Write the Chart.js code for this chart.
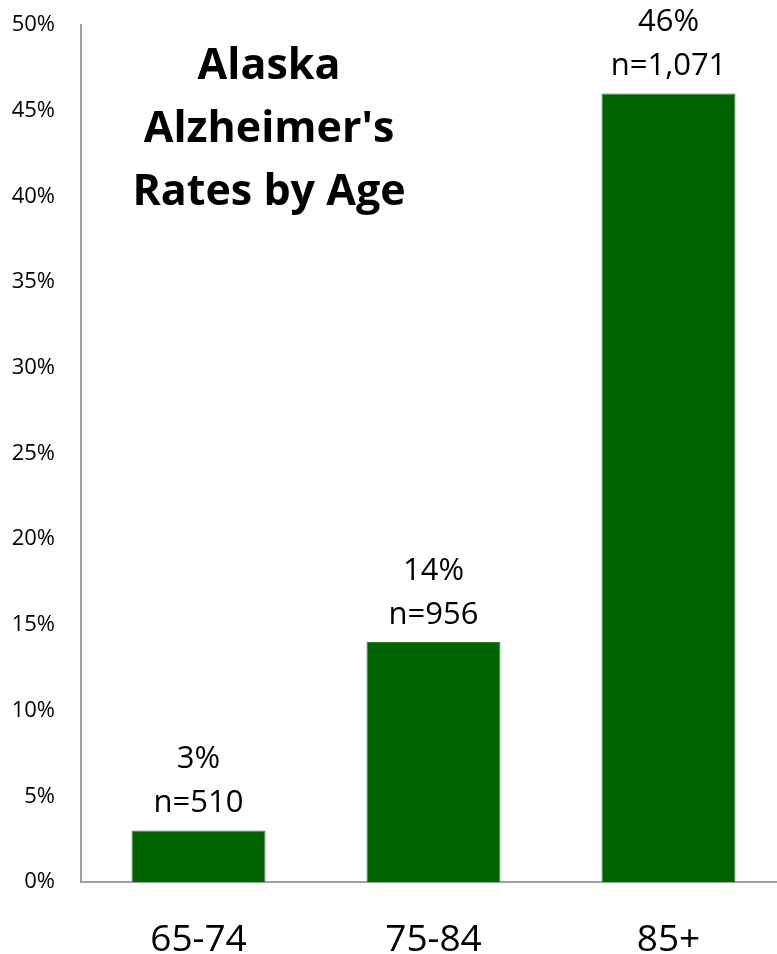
<!DOCTYPE html>
<html>
<head>
<meta charset="utf-8">
<script src="https://cdn.jsdelivr.net/npm/chart.js@4.4.1/dist/chart.umd.min.js"></script>
<style>
  html, body { margin: 0; padding: 0; background: #fff; overflow: hidden; }
  #wrap { width: 786px; height: 954px; }
</style>
</head>
<body>
<div id="wrap"><canvas id="chart" width="786" height="954"></canvas></div>
<script>
const ageGroups = ["65-74", "75-84", "85+"];
const rates = [3, 14, 46];
const counts = ["n=510", "n=956", "n=1,071"];
const titleLines = ["Alaska", "Alzheimer's", "Rates by Age"];

const FONT = "'Open Sans', sans-serif";

// labels over the bars: percentage + sample size
const barLabels = {
  id: "barLabels",
  afterDatasetsDraw(chart) {
    const ctx = chart.ctx;
    const meta = chart.getDatasetMeta(0);
    ctx.save();
    ctx.fillStyle = "#000";
    ctx.textAlign = "center";
    ctx.textBaseline = "middle";
    ctx.font = "31px " + FONT;
    meta.data.forEach((bar, i) => {
      ctx.fillText(rates[i] + "%", bar.x, bar.y - 71);
      ctx.fillText(counts[i], bar.x, bar.y - 27);
    });
    ctx.restore();
  }
};

// title sits inside the plot area
const insideTitle = {
  id: "insideTitle",
  afterDraw(chart) {
    const ctx = chart.ctx;
    ctx.save();
    ctx.fillStyle = "#000";
    ctx.textAlign = "center";
    ctx.textBaseline = "middle";
    ctx.font = "bold 43px " + FONT;
    titleLines.forEach((t, i) => ctx.fillText(t, 269, 67 + i * 63));
    ctx.restore();
  }
};

new Chart(document.getElementById("chart"), {
  type: "bar",
  data: {
    labels: ageGroups,
    datasets: [{
      data: rates,
      backgroundColor: "#006400",
      borderColor: "#2e8b2e",
      borderWidth: 1,
      categoryPercentage: 1,
      barPercentage: 0.57
    }]
  },
  options: {
    responsive: false,
    animation: false,
    layout: { padding: { top: 25, right: 0, left: 0, bottom: 0 } },
    plugins: {
      legend: { display: false },
      tooltip: { enabled: false }
    },
    scales: {
      x: {
        grid: { display: false, drawTicks: false },
        border: { color: "#a0a0a0", width: 2 },
        ticks: {
          color: "#000",
          font: { family: FONT, size: 37 },
          padding: 36
        },
        afterFit(scale) {
          scale.height = 72;
          scale.paddingLeft = 0;
          scale.paddingRight = 0;
        }
      },
      y: {
        min: 0,
        max: 50,
        grid: { display: false, drawTicks: false },
        border: { color: "#a0a0a0", width: 2 },
        ticks: {
          stepSize: 5,
          color: "#000",
          font: { family: FONT, size: 22 },
          padding: 26,
          callback: (v) => v + "%"
        },
        afterFit(scale) {
          scale.width = 81;
          scale.paddingTop = 0;
          scale.paddingBottom = 0;
        }
      }
    }
  },
  plugins: [barLabels, insideTitle]
});
</script>
</body>
</html>
